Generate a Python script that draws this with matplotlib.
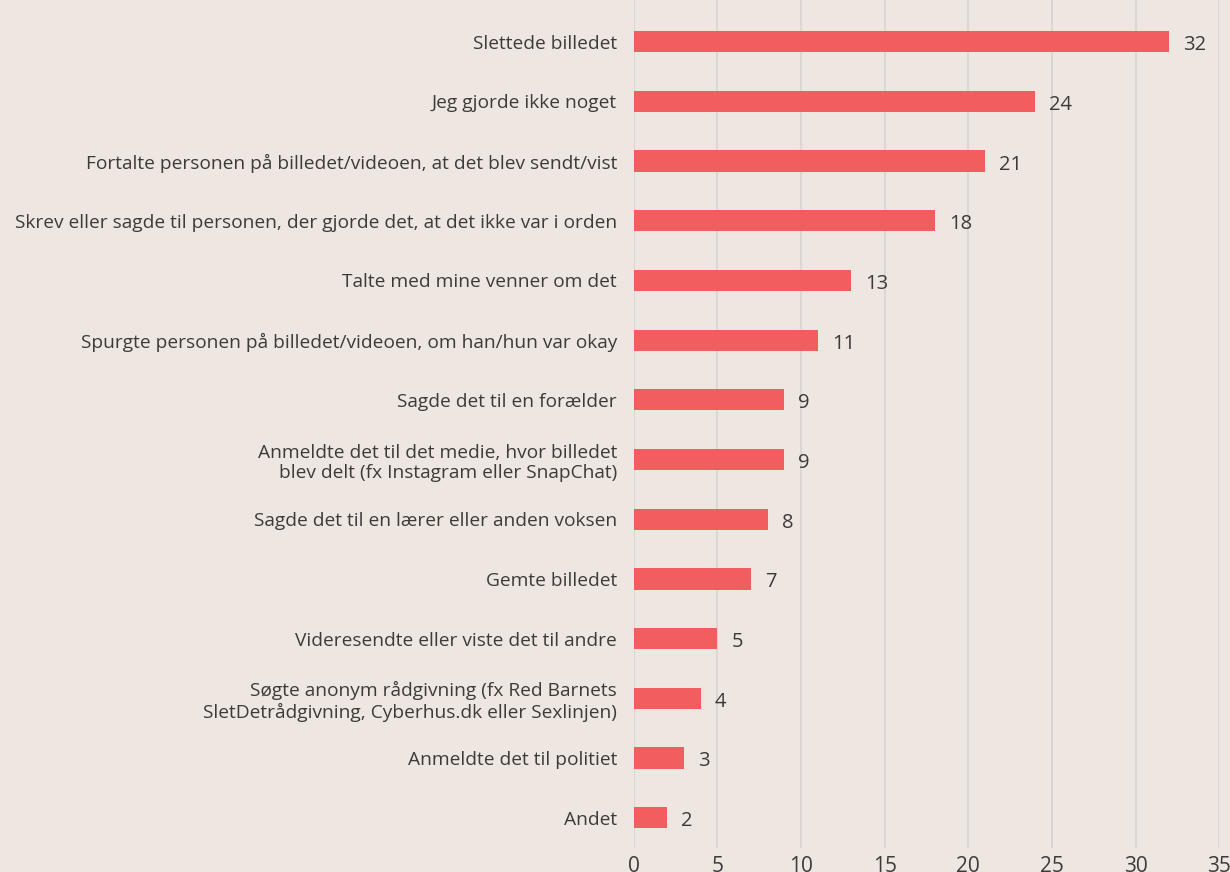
import matplotlib
matplotlib.use('Agg')
import matplotlib.pyplot as plt

# kategorier og værdier (top til bund)
categories = [
    'Slettede billedet',
    'Jeg gjorde ikke noget',
    'Fortalte personen på billedet/videoen, at det blev sendt/vist',
    'Skrev eller sagde til personen, der gjorde det, at det ikke var i orden',
    'Talte med mine venner om det',
    'Spurgte personen på billedet/videoen, om han/hun var okay',
    'Sagde det til en forælder',
    'Anmeldte det til det medie, hvor billedet\nblev delt (fx Instagram eller SnapChat)',
    'Sagde det til en lærer eller anden voksen',
    'Gemte billedet',
    'Videresendte eller viste det til andre',
    'Søgte anonym rådgivning (fx Red Barnets\nSletDetrådgivning, Cyberhus.dk eller Sexlinjen)',
    'Anmeldte det til politiet',
    'Andet',
]
values = [32, 24, 21, 18, 13, 11, 9, 9, 8, 7, 5, 4, 3, 2]
xticks = [0, 5, 10, 15, 20, 25, 30, 35]

bg = '#EEE6E0'
bar_color = '#F25D5F'
text_color = '#3F3A3A'
grid_color = '#DCD7D3'

plt.rcParams['font.family'] = ['Open Sans', 'DejaVu Sans']

fig = plt.figure(figsize=(12.3, 8.72), dpi=100, facecolor=bg)
ax = fig.add_axes([0.5152, 0.0275, 0.476, 0.9725], facecolor=bg)

pos = list(range(len(categories)))
ax.barh(pos, values, height=0.357, color=bar_color, zorder=2)

for p, v in zip(pos, values):
    ax.text(v + 0.85, p + 0.06, str(v), va='center', ha='left',
            color=text_color, fontsize=14.5)

ax.set_xlim(0, 35)
ax.set_ylim(13.51, -0.70)
ax.set_xticks(xticks)
ax.set_yticks(pos)
ax.set_yticklabels(categories, ha='right', linespacing=1.2)
ax.tick_params(axis='both', length=0, colors=text_color)
ax.tick_params(axis='y', pad=12, labelsize=13.8)
ax.tick_params(axis='x', pad=6, labelsize=15)
ax.xaxis.grid(True, color=grid_color, linewidth=1.5, zorder=0)
ax.set_axisbelow(True)
for s in ax.spines.values():
    s.set_visible(False)

fig.savefig('out.png', dpi=100, facecolor=bg)
